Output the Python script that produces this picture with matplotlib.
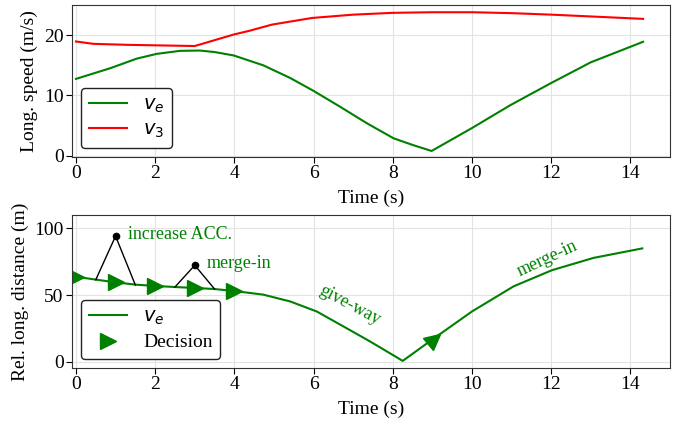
import matplotlib
matplotlib.use("Agg")
import matplotlib.pyplot as plt
from matplotlib.markers import MarkerStyle
from matplotlib.transforms import Affine2D

plt.rcParams['font.family'] = ['Liberation Serif', 'DejaVu Serif']
plt.rcParams['mathtext.fontset'] = 'dejavusans'

# Top panel: longitudinal speeds
t_ve = [0, 0.88, 1.53, 2.04, 2.63, 3.13, 3.5, 3.98, 4.73, 5.41, 6.0, 6.67, 7.35, 8.02,
        8.5, 8.98, 10, 10.97, 11.98, 13, 13.7, 14.32]
v_e = [12.75, 14.55, 16.1, 16.9, 17.4, 17.45, 17.2, 16.64, 15.0, 12.9, 10.76, 8.13,
       5.38, 2.9, 1.8, 0.8, 4.6, 8.4, 12.0, 15.5, 17.3, 18.9]
t_v3 = [0, 0.44, 1.28, 2.12, 3.0, 3.98, 4.4, 4.95, 5.96, 7.0, 8, 9, 10, 11, 12, 13,
        14.32]
v_3 = [18.95, 18.56, 18.4, 18.3, 18.2, 20.1, 20.76, 21.75, 22.85, 23.4, 23.7, 23.8,
       23.8, 23.65, 23.4, 23.1, 22.7]

# Bottom panel: relative longitudinal distance
t_dist = [0, 0.49, 1, 1.5, 2, 2.5, 3, 3.5, 4.06, 4.73, 5.41, 6.08, 6.76, 7.43, 8.1,
          8.25, 9.03, 10.0, 11.05, 12.02, 13.07, 14.3]
d_e = [63.8, 61.7, 59.6, 57.9, 56.9, 56.1, 55.4, 54.6, 52.9, 50.4, 45.3, 37.8, 26.5,
       15.3, 3.5, 0.8, 17.5, 37.8, 56.6, 68.7, 77.9, 85.0]

dec_t = [0, 1, 2, 3, 4]
dec_d = [63.8, 59.6, 56.9, 55.4, 53.1]
dec2_t = [9.03]
dec2_d = [17.0]

tree1_t = [0.5, 1.0, 1.5]
tree1_d = [61.5, 94.2, 57.6]
tree2_t = [2.5, 3.0, 3.5]
tree2_d = [56.1, 72.4, 54.6]

green = '#008000'
fig = plt.figure(figsize=(6.83, 4.21), dpi=100)
ax1 = fig.add_axes([72/683, 1-157/421, 598/683, 152/421])
ax2 = fig.add_axes([72/683, 1-368/421, 598/683, 153/421])

leg_kw = dict(loc='lower left', fontsize=14, edgecolor='#222222', framealpha=1,
              borderaxespad=0.45, handlelength=2.0, borderpad=0.4,
              labelspacing=0.35)

ax1.plot(t_ve, v_e, color=green, lw=1.5, label='$v_e$')
ax1.plot(t_v3, v_3, color='red', lw=1.5, label='$v_3$')
ax1.set_xlim(-0.1, 15)
ax1.set_ylim(-0.2, 25)
ax1.set_xlabel('Time (s)', fontsize=14, labelpad=5)
ax1.set_ylabel('Long. speed (m/s)', fontsize=14, labelpad=4)
ax1.legend(**leg_kw)

ax2.plot(t_dist, d_e, color=green, lw=1.5, label='$v_e$')
ax2.plot(dec_t, dec_d, linestyle='none', marker='>', color=green, markersize=11,
         label='Decision')
m = MarkerStyle('>', transform=Affine2D().rotate_deg(38))
ax2.plot(dec2_t, dec2_d, linestyle='none', marker=m, color=green, markersize=11)
ax2.plot(tree1_t, tree1_d, color='black', lw=1)
ax2.plot(tree2_t, tree2_d, color='black', lw=1)
ax2.plot([tree1_t[1], tree2_t[1]], [tree1_d[1], tree2_d[1]], linestyle='none',
         marker='o', color='black', markersize=4.5)
ax2.text(1.32, 95.5, 'increase ACC.', color=green, fontsize=13, va='center')
ax2.text(3.3, 74, 'merge-in', color=green, fontsize=13, va='center')
ax2.text(6.92, 42.5, 'give-way', color=green, fontsize=13, va='center', ha='center',
         rotation=-28)
ax2.text(11.9, 77.5, 'merge-in', color=green, fontsize=13, va='center', ha='center',
         rotation=25)
ax2.set_xlim(-0.1, 15)
ax2.set_ylim(-4.5, 110)
ax2.set_yticks([0, 50, 100])
ax2.set_xlabel('Time (s)', fontsize=14, labelpad=5)
ax2.set_ylabel('Rel. long. distance (m)', fontsize=14, labelpad=4)
ax2.legend(**leg_kw)

for ax in (ax1, ax2):
    ax.grid(True, color='#e3e3e3', lw=0.8)
    ax.set_axisbelow(True)
    ax.tick_params(labelsize=14, length=4, pad=2)
    ax.set_xticks([0, 2, 4, 6, 8, 10, 12, 14])
    for s in ax.spines.values():
        s.set_color('#333333')

fig.savefig('out.png', dpi=100)
